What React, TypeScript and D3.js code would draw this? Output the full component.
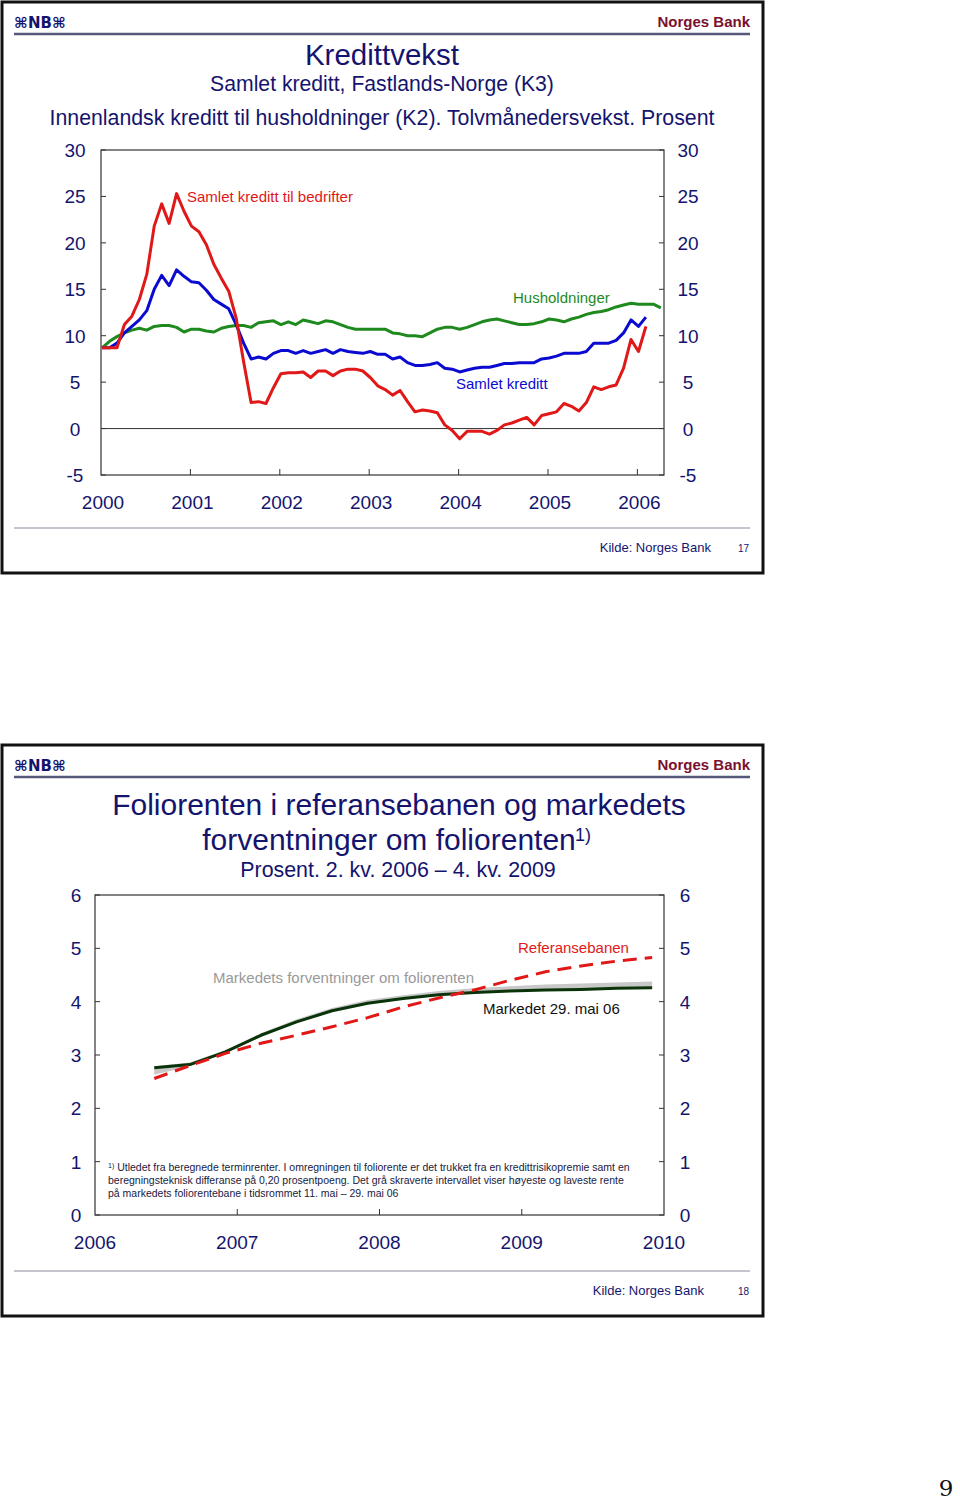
import React from "react";
import * as d3 from "d3";

// ---------- Chart 1: Kredittvekst (monthly, Jan 2000 onwards) ----------
const startYear1 = 2000;
const yearTicks1 = [2000, 2001, 2002, 2003, 2004, 2005, 2006];
const yTicks1 = [-5, 0, 5, 10, 15, 20, 25, 30];

const bedrifter = [
  8.7, 8.7, 8.7, 11.2, 12.1, 13.9, 16.6, 21.8, 24.2, 22.1, 25.3, 23.4,
  21.8, 21.2, 19.8, 17.7, 16.2, 14.8, 11.9, 7.2, 2.8, 2.9, 2.7, 4.4,
  5.9, 6.0, 6.0, 6.1, 5.5, 6.2, 6.2, 5.7, 6.2, 6.4, 6.4, 6.2,
  5.5, 4.6, 4.2, 3.6, 4.1, 2.9, 1.8, 2.0, 1.9, 1.7, 0.4, -0.2,
  -1.1, -0.3, -0.3, -0.3, -0.6, -0.2, 0.4, 0.6, 0.9, 1.2, 0.4, 1.4,
  1.6, 1.8, 2.7, 2.4, 1.9, 2.8, 4.5, 4.2, 4.5, 4.7, 6.5, 9.6,
  8.3, 11.0,
];

const samletKreditt = [
  8.7, 8.7, 9.2, 10.3, 11.0, 11.7, 12.7, 15.0, 16.5, 15.4, 17.1, 16.4,
  15.8, 15.7, 14.9, 13.9, 13.4, 12.9, 11.2, 9.2, 7.5, 7.7, 7.5, 8.1,
  8.4, 8.4, 8.1, 8.4, 8.1, 8.3, 8.5, 8.1, 8.5, 8.3, 8.2, 8.1,
  8.3, 8.0, 8.0, 7.5, 7.7, 7.1, 6.8, 6.8, 6.9, 7.1, 6.5, 6.4,
  6.1, 6.3, 6.5, 6.6, 6.6, 6.8, 7.0, 7.0, 7.1, 7.1, 7.1, 7.5,
  7.6, 7.8, 8.1, 8.1, 8.1, 8.3, 9.2, 9.2, 9.2, 9.5, 10.3, 11.7,
  11.0, 12.0,
];

const husholdninger = [
  8.7, 9.4, 9.9, 10.3, 10.6, 10.8, 10.6, 11.0, 11.1, 11.1, 10.9, 10.4,
  10.7, 10.7, 10.5, 10.4, 10.8, 11.0, 11.1, 11.1, 10.9, 11.4, 11.5, 11.6,
  11.2, 11.5, 11.2, 11.7, 11.5, 11.3, 11.6, 11.5, 11.2, 10.9, 10.7, 10.7,
  10.7, 10.7, 10.7, 10.3, 10.2, 10.0, 10.0, 9.9, 10.3, 10.7, 10.9, 10.9,
  10.7, 10.9, 11.2, 11.5, 11.7, 11.8, 11.6, 11.4, 11.2, 11.2, 11.3, 11.5,
  11.8, 11.7, 11.5, 11.8, 12.0, 12.3, 12.5, 12.6, 12.8, 13.1, 13.3, 13.5,
  13.4, 13.4, 13.4, 13.0,
];

// ---------- Chart 2: Foliorenten (quarterly, 2. kv. 2006 – 4. kv. 2009) ----------
const quarters = [
  "2006K2", "2006K3", "2006K4", "2007K1", "2007K2", "2007K3", "2007K4",
  "2008K1", "2008K2", "2008K3", "2008K4", "2009K1", "2009K2", "2009K3", "2009K4",
];
const referansebanen = [2.56, 2.8, 3.03, 3.22, 3.37, 3.53, 3.7, 3.9, 4.07, 4.22, 4.4, 4.56, 4.67, 4.76, 4.83];
const markedet = [2.76, 2.82, 3.06, 3.37, 3.62, 3.83, 3.97, 4.06, 4.13, 4.17, 4.2, 4.22, 4.23, 4.25, 4.26];
const intervallLav = [2.63, 2.79, 3.04, 3.35, 3.6, 3.82, 3.97, 4.06, 4.13, 4.17, 4.2, 4.22, 4.23, 4.24, 4.25];
const intervallHoy = [2.79, 2.86, 3.09, 3.41, 3.67, 3.88, 4.03, 4.12, 4.2, 4.25, 4.29, 4.32, 4.34, 4.36, 4.38];
const yearTicks2 = [2006, 2007, 2008, 2009, 2010];
const yTicks2 = [0, 1, 2, 3, 4, 5, 6];

const FONT = "'Liberation Sans', Arial, Helvetica, sans-serif";
const NAVY = "#14146e";
const RED = "#e01818";
const BLUE = "#0a0ad0";
const GREEN = "#1e8a1e";

function quarterTime(q: string): number {
  const y = +q.slice(0, 4);
  const k = +q.slice(5);
  return y + (k - 1) / 4 + 1 / 6;
}

function SlideFrame({ top, page, kildeEnd }: { top: number; page: string; kildeEnd: number }) {
  return (
    <g>
      <rect x={2} y={top} width={761} height={571} fill="white" stroke="#111" strokeWidth={3} />
      <text x={14} y={top + 26} fontFamily="'DejaVu Sans', sans-serif" fontWeight="bold" fontSize={15} fill={NAVY}>
        ⌘NB⌘
      </text>
      <text x={750} y={top + 25} textAnchor="end" fontFamily={FONT} fontWeight="bold" fontSize={15} fill="#7a1030">
        Norges Bank
      </text>
      <line x1={14} x2={750} y1={top + 32} y2={top + 32} stroke="#55587a" strokeWidth={2.5} />
      <line x1={14} x2={750} y1={top + 526} y2={top + 526} stroke="#8a8a9a" strokeWidth={1} />
      <text x={kildeEnd} y={top + 550} textAnchor="end" fontFamily={FONT} fontSize={13} fill={NAVY}>
        Kilde: Norges Bank
      </text>
      <text x={749} y={top + 550} textAnchor="end" fontFamily={FONT} fontSize={10} fill={NAVY}>
        {page}
      </text>
    </g>
  );
}

function Chart1() {
  const L = 101, R = 664, T = 150, B = 475;
  const x = d3.scaleLinear().domain([2000, 2000 + (R - L) / 89.4]).range([L, R]);
  const y = d3.scaleLinear().domain([-5, 30]).range([B, T]);
  const tm = (i: number) => startYear1 + i / 12 + 0.012;
  const line = d3
    .line<number>()
    .x((_, i) => x(tm(i)))
    .y((d) => y(d));
  return (
    <g>
      <text x={382} y={65} textAnchor="middle" fontFamily={FONT} fontSize={29.5} fill={NAVY}>Kredittvekst</text>
      <text x={382} y={91} textAnchor="middle" fontFamily={FONT} fontSize={21.2} fill={NAVY}>Samlet kreditt, Fastlands-Norge (K3)</text>
      <text x={382} y={125} textAnchor="middle" fontFamily={FONT} fontSize={21.3} fill={NAVY}>
        Innenlandsk kreditt til husholdninger (K2). Tolvmånedersvekst. Prosent
      </text>
      <line x1={L} x2={R} y1={y(0)} y2={y(0)} stroke="#333" strokeWidth={1} />
      <path d={line(husholdninger) || ""} fill="none" stroke={GREEN} strokeWidth={3} strokeLinejoin="round" />
      <path d={line(samletKreditt) || ""} fill="none" stroke={BLUE} strokeWidth={3} strokeLinejoin="round" />
      <path d={line(bedrifter) || ""} fill="none" stroke={RED} strokeWidth={3} strokeLinejoin="round" />
      <rect x={L} y={T} width={R - L} height={B - T} fill="none" stroke="#333" strokeWidth={1.2} />
      {yTicks1.map((t) => (
        <g key={t}>
          <line x1={L} x2={L + 5} y1={y(t)} y2={y(t)} stroke="#333" />
          <line x1={R - 5} x2={R} y1={y(t)} y2={y(t)} stroke="#333" />
          <text x={75} y={y(t) + 7} textAnchor="middle" fontFamily={FONT} fontSize={19} fill={NAVY}>{t}</text>
          <text x={688} y={y(t) + 7} textAnchor="middle" fontFamily={FONT} fontSize={19} fill={NAVY}>{t}</text>
        </g>
      ))}
      {yearTicks1.map((t) => (
        <g key={t}>
          {t > 2000 && <line x1={x(t)} x2={x(t)} y1={B} y2={B - 6} stroke="#333" />}
          <text x={x(t) + 2} y={509} textAnchor="middle" fontFamily={FONT} fontSize={19} fill={NAVY}>{t}</text>
        </g>
      ))}
      <text x={187} y={202} fontFamily={FONT} fontSize={15} fill={RED}>Samlet kreditt til bedrifter</text>
      <text x={513} y={303} fontFamily={FONT} fontSize={15} fill={GREEN}>Husholdninger</text>
      <text x={456} y={389} fontFamily={FONT} fontSize={15} fill={BLUE}>Samlet kreditt</text>
    </g>
  );
}

function Chart2() {
  const L = 95, R = 664, T = 895, B = 1215;
  const x = d3.scaleLinear().domain([2006, 2010]).range([L, R]);
  const y = d3.scaleLinear().domain([0, 6]).range([B, T]);
  const xs = quarters.map(quarterTime);
  const line = d3
    .line<number>()
    .x((_, i) => x(xs[i]))
    .y((d) => y(d));
  const area = d3
    .area<number>()
    .x((_, i) => x(xs[i]))
    .y0((_, i) => y(intervallLav[i]))
    .y1((_, i) => y(intervallHoy[i]));
  return (
    <g>
      <text x={399} y={815} textAnchor="middle" fontFamily={FONT} fontSize={30} fill={NAVY}>
        Foliorenten i referansebanen og markedets
      </text>
      <text x={389} y={850} textAnchor="middle" fontFamily={FONT} fontSize={30} fill={NAVY}>
        forventninger om foliorenten
      </text>
      <text x={575} y={841} fontFamily={FONT} fontSize={18} fill={NAVY}>1)</text>
      <text x={398} y={877} textAnchor="middle" fontFamily={FONT} fontSize={21.4} fill={NAVY}>
        Prosent. 2. kv. 2006 – 4. kv. 2009
      </text>
      <path d={area(intervallLav) || ""} fill="#c8c8c8" stroke="none" />
      <path d={line(markedet) || ""} fill="none" stroke="#0a330a" strokeWidth={3} strokeLinejoin="round" />
      <path d={line(referansebanen) || ""} fill="none" stroke={RED} strokeWidth={3} strokeDasharray="14,8" />
      <rect x={L} y={T} width={R - L} height={B - T} fill="none" stroke="#333" strokeWidth={1.2} />
      {yTicks2.map((t) => (
        <g key={t}>
          <line x1={L} x2={L + 5} y1={y(t)} y2={y(t)} stroke="#333" />
          <line x1={R - 5} x2={R} y1={y(t)} y2={y(t)} stroke="#333" />
          <text x={76} y={y(t) + 7} textAnchor="middle" fontFamily={FONT} fontSize={19} fill={NAVY}>{t}</text>
          <text x={685} y={y(t) + 7} textAnchor="middle" fontFamily={FONT} fontSize={19} fill={NAVY}>{t}</text>
        </g>
      ))}
      {yearTicks2.map((t) => (
        <g key={t}>
          {t > 2006 && t < 2010 && <line x1={x(t)} x2={x(t)} y1={B} y2={B - 6} stroke="#333" />}
          <text x={x(t)} y={1249} textAnchor="middle" fontFamily={FONT} fontSize={19} fill={NAVY}>{t}</text>
        </g>
      ))}
      <text x={518} y={953} fontFamily={FONT} fontSize={15} fill={RED}>Referansebanen</text>
      <text x={213} y={983} fontFamily={FONT} fontSize={15} fill="#999">Markedets forventninger om foliorenten</text>
      <text x={483} y={1014} fontFamily={FONT} fontSize={15} fill="#111">Markedet 29. mai 06</text>
      <g fontFamily={FONT} fontSize={10.5} fill="#1a1a40">
        <text x={108} y={1171}>
          <tspan fontSize={7} dy={-3}>1)</tspan>
          <tspan dy={3}> Utledet fra beregnede terminrenter. I omregningen til foliorente er det trukket fra en kredittrisikopremie samt en</tspan>
        </text>
        <text x={108} y={1184}>
          beregningsteknisk differanse på 0,20 prosentpoeng. Det grå skraverte intervallet viser høyeste og laveste rente
        </text>
        <text x={108} y={1197}>på markedets foliorentebane i tidsrommet 11. mai – 29. mai 06</text>
      </g>
    </g>
  );
}

export default function App() {
  return (
    <svg
      width={960}
      height={1501}
      viewBox="0 0 960 1501"
      style={{ position: "absolute", left: 0, top: 0, background: "white" }}
    >
      <rect width={960} height={1501} fill="white" />
      <SlideFrame top={2} page="17" kildeEnd={711} />
      <Chart1 />
      <SlideFrame top={745} page="18" kildeEnd={704} />
      <Chart2 />
      <text x={946} y={1496} textAnchor="middle" fontFamily="'DejaVu Serif', 'Liberation Serif', serif" fontSize={23} fill="#111">9</text>
    </svg>
  );
}
